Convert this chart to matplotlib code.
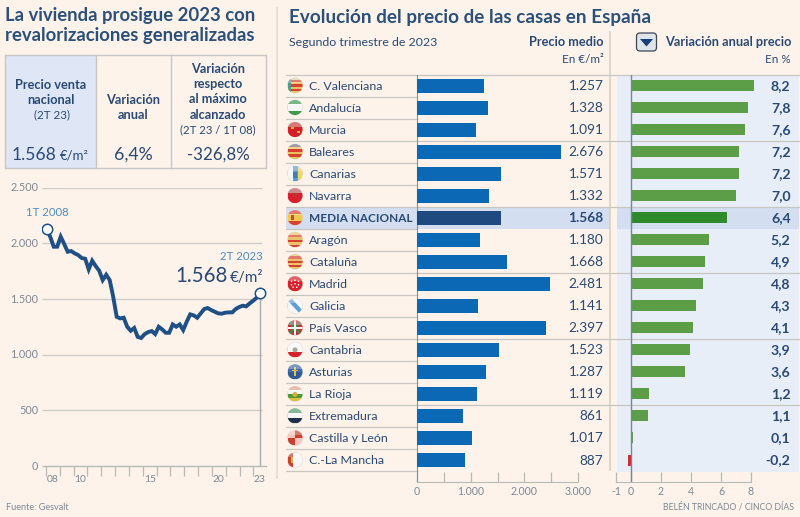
"""
Precio de la vivienda en Espana, 2T 2023: evolucion nacional y ranking por comunidades
"""

import matplotlib
matplotlib.use('Agg')
import matplotlib.pyplot as plt
from matplotlib.patches import Circle, FancyBboxPatch, Polygon, Rectangle

plt.rcParams['font.family'] = ['Lato', 'DejaVu Sans']

# Datos
regiones = ['C. Valenciana', 'Andalucía', 'Murcia', 'Baleares', 'Canarias', 'Navarra',
            'MEDIA NACIONAL', 'Aragón', 'Cataluña', 'Madrid', 'Galicia', 'País Vasco',
            'Cantabria', 'Asturias', 'La Rioja', 'Extremadura', 'Castilla y León', 'C.-La Mancha']
precio_medio = [1257, 1328, 1091, 2676, 1571, 1332, 1568, 1180, 1668,
                2481, 1141, 2397, 1523, 1287, 1119, 861, 1017, 887]
variacion = [8.2, 7.8, 7.6, 7.2, 7.2, 7.0, 6.4, 5.2, 4.9,
             4.8, 4.3, 4.1, 3.9, 3.6, 1.2, 1.1, 0.1, -0.2]

# Serie trimestral desde 1T 2008 hasta 2T 2023
precio_trimestral = [2126, 2060, 1970, 1970, 2060, 1994, 1925, 1931, 1910, 1895, 1868,
                     1862, 1766, 1844, 1796, 1754, 1670, 1718, 1670, 1520, 1340, 1326,
                     1332, 1251, 1215, 1240, 1160, 1150, 1185, 1203, 1212, 1185, 1251,
                     1227, 1197, 1197, 1272, 1251, 1272, 1221, 1296, 1362, 1353, 1332,
                     1371, 1410, 1419, 1401, 1386, 1371, 1368, 1377, 1380, 1380, 1410,
                     1428, 1440, 1434, 1461, 1485, 1512, 1555]
ticks_y = [0, 500, 1000, 1500, 2000, 2500]
etiquetas_anio = ['08', '10', '15', '20', '23']

# Colores de las banderas, en franjas horizontales (h) o verticales (v)
banderas = [
    ('h', ['#dcd2a8', '#d8402f', '#e9c46a', '#d8402f', '#e9c46a', '#d8402f', '#e9c46a']),
    ('h', ['#3f9a4e', '#f7f7f7', '#f7f7f7', '#3f9a4e']),
    ('h', ['#c9403c', '#d32027', '#d32027']),
    ('h', ['#77708f', '#e8c35a', '#d8402f', '#e8c35a', '#d8402f', '#e8c35a']),
    ('v', ['#f7f7f7', '#5b9bd5', '#f0d860']),
    ('h', ['#b85a5a', '#d8202c', '#d8202c']),
    ('h', ['#d8402f', '#f0c850', '#f0c850', '#d8402f']),
    ('h', ['#e9c46a', '#d8402f', '#e9c46a', '#d8402f', '#e9c46a', '#d8402f']),
    ('h', ['#e9c46a', '#d8402f', '#e9c46a', '#d8402f', '#e9c46a', '#d8402f', '#e9c46a']),
    ('h', ['#d8202c', '#d8202c']),
    ('h', ['#f7f7f7']),
    ('h', ['#c8303a', '#c8303a']),
    ('h', ['#f7f7f7', '#f7f7f7', '#d8202c']),
    ('h', ['#3f6ea8', '#2f5a94']),
    ('h', ['#e0a090', '#f7f7f7', '#4f9a2f', '#e0c040']),
    ('h', ['#4f9a6a', '#f7f7f7', '#1f2f4a']),
    ('h', ['#f7f7f7']),
    ('v', ['#c8402f', '#f7f7f7', '#f7f7f7']),
]

# Paleta
fondo = '#fdf3ea'
azul_texto = '#2a4a74'
azul_titulo = '#2b5079'
azul_claro = '#4f8cbc'
gris_eje = '#7d8896'
gris_linea = '#c8c6c2'
panel_azul = '#e8eef8'
fila_media = '#d3dff1'

W, H = 800, 517
fig = plt.figure(figsize=(W / 100, H / 100), dpi=100, facecolor=fondo)

# Capa de fondo en pixeles, para textos, tablas y paneles
capa = fig.add_axes([0, 0, 1, 1], zorder=0)
capa.set_xlim(0, W)
capa.set_ylim(H, 0)
capa.axis('off')


def ejes_px(x0, y0, x1, y1):
    # y0 es el borde superior en pixeles de la imagen
    ax = fig.add_axes([x0 / W, 1 - y1 / H, (x1 - x0) / W, (y1 - y0) / H], zorder=2)
    ax.patch.set_alpha(0)
    return ax


def miles(v):
    return f'{v:,}'.replace(',', '.')


def detalle_bandera(nombre, xc, yc, recorte):
    # escudos y simbolos, solo a grandes rasgos
    piezas = []
    if nombre == 'C. Valenciana':
        piezas.append(Rectangle((xc - 7.5, yc - 7.5), 3, 15, facecolor='#4f9a8a', edgecolor='none'))
    elif nombre == 'Murcia':
        piezas.append(Rectangle((xc - 4, yc - 3), 3, 2, facecolor='#e8b050', edgecolor='none'))
        piezas.append(Rectangle((xc + 2, yc + 1), 3, 2, facecolor='#e8b050', edgecolor='none'))
    elif nombre == 'Canarias':
        piezas.append(Rectangle((xc - 2, yc - 2), 4, 6, facecolor='#3f7fb8', edgecolor='none'))
    elif nombre == 'Navarra':
        piezas.append(Circle((xc, yc - 1), 2, facecolor='#b03a3a', edgecolor='none'))
    elif nombre == 'MEDIA NACIONAL':
        piezas.append(Rectangle((xc - 4, yc - 2.5), 3, 5, facecolor='#b8503a', edgecolor='none'))
    elif nombre == 'Madrid':
        for dx, dy in [(-3.5, -2.5), (0, -3.5), (3.5, -2.5), (-3.5, 1), (0, 0), (3.5, 1), (-1.8, 3.5), (1.8, 3.5)]:
            piezas.append(Circle((xc + dx, yc + dy), 0.8, facecolor='white', edgecolor='none'))
    elif nombre == 'Galicia':
        piezas.append(Polygon([[xc - 7, yc - 5], [xc - 3, yc - 7], [xc + 7, yc + 4], [xc + 4, yc + 7]],
                              facecolor='#5f9fd8', edgecolor='none'))
    elif nombre == 'País Vasco':
        piezas.append(Polygon([[xc - 7, yc - 6], [xc - 5, yc - 7], [xc + 7, yc + 6], [xc + 5, yc + 7]],
                              facecolor='#3f8a50', edgecolor='none'))
        piezas.append(Polygon([[xc + 7, yc - 6], [xc + 5, yc - 7], [xc - 7, yc + 6], [xc - 5, yc + 7]],
                              facecolor='#3f8a50', edgecolor='none'))
        piezas.append(Rectangle((xc - 1, yc - 7.5), 2, 15, facecolor='#f4f4f4', edgecolor='none'))
        piezas.append(Rectangle((xc - 7.5, yc - 1), 15, 2, facecolor='#f4f4f4', edgecolor='none'))
    elif nombre == 'Cantabria':
        piezas.append(Circle((xc, yc), 2.5, facecolor='#a8a890', edgecolor='none'))
    elif nombre == 'Asturias':
        piezas.append(Rectangle((xc - 0.6, yc - 4.5), 1.2, 9, facecolor='#e0c050', edgecolor='none'))
        piezas.append(Rectangle((xc - 3, yc - 2.2), 6, 1.2, facecolor='#e0c050', edgecolor='none'))
    elif nombre == 'La Rioja':
        piezas.append(Circle((xc, yc + 0.5), 2.5, facecolor='#d8b040', edgecolor='none'))
    elif nombre == 'Castilla y León':
        piezas.append(Rectangle((xc - 7.5, yc - 7.5), 7.5, 7.5, facecolor='#f2c8b8', edgecolor='none'))
        piezas.append(Rectangle((xc, yc - 7.5), 7.5, 7.5, facecolor='#c84030', edgecolor='none'))
        piezas.append(Rectangle((xc - 7.5, yc), 7.5, 7.5, facecolor='#c84030', edgecolor='none'))
        piezas.append(Rectangle((xc, yc), 7.5, 7.5, facecolor='#f2c8b8', edgecolor='none'))
    elif nombre == 'C.-La Mancha':
        piezas.append(Rectangle((xc - 4.5, yc - 3), 2.8, 6, facecolor='#e0b050', edgecolor='none'))
    for p in piezas:
        p.set_zorder(4)
        capa.add_patch(p)
        p.set_clip_path(recorte)


# Titulos
capa.text(5, 15.5, 'La vivienda prosigue 2023 con', fontsize=13.3, fontweight='bold', color=azul_titulo, va='center')
capa.text(5, 35, 'revalorizaciones generalizadas', fontsize=13.3, fontweight='bold', color=azul_titulo, va='center')
capa.text(289, 17, 'Evolución del precio de las casas en España', fontsize=13.6, fontweight='bold', color=azul_titulo, va='center')

# Tabla de resumen
capa.add_patch(Rectangle((5, 55), 91, 112.5, facecolor='#dfe7f6', edgecolor='none'))
capa.add_patch(Rectangle((5, 55), 261, 112.5, facecolor='none', edgecolor=gris_linea, lw=1))
capa.plot([96, 96], [55, 167.5], color=gris_linea, lw=1)
capa.plot([170.5, 170.5], [55, 167.5], color=gris_linea, lw=1)

estilo = dict(ha='center', va='center', color=azul_texto)
capa.text(50.5, 85, 'Precio venta', fontsize=9.2, fontweight='bold', **estilo)
capa.text(50.5, 100, 'nacional', fontsize=9.2, fontweight='bold', **estilo)
capa.text(51.5, 115, '(2T 23)', fontsize=8.4, **estilo)
capa.text(133, 100, 'Variación', fontsize=9.2, fontweight='bold', **estilo)
capa.text(133, 115, 'anual', fontsize=9.2, fontweight='bold', **estilo)
capa.text(218, 69, 'Variación', fontsize=9.2, fontweight='bold', **estilo)
capa.text(218, 84, 'respecto', fontsize=9.2, fontweight='bold', **estilo)
capa.text(218, 99, 'al máximo', fontsize=9.2, fontweight='bold', **estilo)
capa.text(218, 115, 'alcanzado', fontsize=9.2, fontweight='bold', **estilo)
capa.text(218, 130, '(2T 23 / 1T 08)', fontsize=8.2, **estilo)
capa.text(12, 155, '1.568', fontsize=12.6, color=azul_texto, va='center')
capa.text(60, 156, '€/m²', fontsize=9.5, color=azul_texto, va='center')
capa.text(133, 155, '6,4%', fontsize=12.8, **estilo)
capa.text(218, 155, '-326,8%', fontsize=12.2, **estilo)

# Separadores verticales
capa.plot([277, 277], [8, 478], color='#e6dcd2', lw=1.2)
capa.plot([610, 610], [32, 470], color='#d9cfc6', lw=1.2)

# Grafico de lineas
ax_linea = ejes_px(42, 187.7, 267, 477)
trimestres = list(range(len(precio_trimestral)))
px_trimestre = 3.5
ax_linea.set_xlim(-(46.7 - 42) / px_trimestre, (267 - 46.7) / px_trimestre)
ax_linea.set_ylim(-(477 - 466) * 2500 / 278.3, 2500)
ax_linea.axis('off')
fin_rejilla = (262 - 46.7) / px_trimestre
ax_linea.hlines(ticks_y[1:], ax_linea.get_xlim()[0], fin_rejilla, color='#cfcdc8', lw=1, zorder=1)
ax_linea.hlines(0, ax_linea.get_xlim()[0], ax_linea.get_xlim()[1], color='#b9b9b6', lw=1, zorder=1)
ax_linea.vlines(trimestres[-1], 0, precio_trimestral[-1], color='#a9adb2', lw=1, zorder=1)
ax_linea.plot(trimestres, precio_trimestral, color='#1f4f85', lw=2.8, solid_joinstyle='miter', zorder=3)
ax_linea.plot([trimestres[0], trimestres[-1]], [precio_trimestral[0], precio_trimestral[-1]], 'o',
              ms=7.5, mfc='white', mec='#1f4f85', mew=1.1, zorder=4)
for k in range(17):
    # marcas anuales bajo el eje
    xt = k * 13.83 / px_trimestre - 0.7 / px_trimestre
    ax_linea.vlines(xt, -(10 * 2500 / 278.3), 0, color='#b9b9b6', lw=0.9)

for v in ticks_y:
    capa.text(38.5, 466 - v * 278.3 / 2500, miles(v), fontsize=7.8, color=gris_eje, ha='right', va='center')
for etiqueta, xp in zip(etiquetas_anio, [52.5, 80, 150, 218, 259.5]):
    capa.text(xp, 479.5, etiqueta, fontsize=7.4, color=gris_eje, ha='center', va='center')

capa.text(26, 212.5, '1T 2008', fontsize=8.2, color=azul_claro, va='center')
capa.text(263, 256.5, '2T 2023', fontsize=8.2, color=azul_claro, ha='right', va='center')
capa.text(175, 276, '1.568', fontsize=14.8, color=azul_texto, va='center')
capa.text(263, 278, '€/m²', fontsize=11, color=azul_texto, ha='right', va='center')
capa.text(6, 507, 'Fuente: Gesvalt', fontsize=6.6, color=gris_eje, va='center')

# Cabeceras de la tabla de comunidades
capa.text(289, 42.5, 'Segundo trimestre de 2023', fontsize=8.9, color=azul_texto, va='center')
capa.text(603.5, 42.5, 'Precio medio', fontsize=9.2, fontweight='bold', color=azul_texto, ha='right', va='center')
capa.text(603.5, 59.5, 'En €/m²', fontsize=8.4, color=azul_texto, ha='right', va='center')
capa.text(791, 42.5, 'Variación anual precio', fontsize=9.2, fontweight='bold', color=azul_texto, ha='right', va='center')
capa.text(791, 59.5, 'En %', fontsize=8.4, color=azul_texto, ha='right', va='center')
capa.add_patch(FancyBboxPatch((636.5, 33), 20, 18, boxstyle='round,pad=0,rounding_size=3.5',
                              facecolor='#dfe3ea', edgecolor='#3c4654', lw=0.9))
capa.add_patch(Polygon([[640, 39], [653, 39], [646.5, 46.5]], facecolor='#173f78', edgecolor='none'))

# Filas
y_arriba = 74.5
alto_fila = 22.03
n = len(regiones)
y_abajo = y_arriba + n * alto_fila
capa.add_patch(Rectangle((617, y_arriba), 182, 397, facecolor=panel_azul, edgecolor='none'))
i_media = regiones.index('MEDIA NACIONAL')
y_media = y_arriba + i_media * alto_fila
capa.add_patch(Rectangle((286, y_media), 324, alto_fila, facecolor=fila_media, edgecolor='none'))
capa.add_patch(Rectangle((617, y_media), 182, alto_fila, facecolor=fila_media, edgecolor='none'))

for i in range(n + 1):
    yl = y_arriba + i * alto_fila
    capa.plot([286, 417], [yl, yl], color=gris_linea, lw=0.9)
    if i % 3 == 0 and i < n:
        capa.plot([417, 799], [yl, yl], color=gris_linea, lw=0.9)

for i, (nombre, precio, var, bandera) in enumerate(zip(regiones, precio_medio, variacion, banderas)):
    yc = y_arriba + (i + 0.5) * alto_fila
    es_media = i == i_media
    capa.text(309, yc + 0.8, nombre, fontsize=8.5 if es_media else 8.9, color=azul_texto, va='center',
              fontweight='bold' if es_media else 'normal')
    capa.text(603.5, yc + 0.5, miles(precio), fontsize=9.8, color=azul_texto, ha='right', va='center',
              fontweight='bold' if es_media else 'normal')
    capa.text(790.5, yc + 0.5, f'{var:.1f}'.replace('.', ','), fontsize=10.2, color=azul_texto,
              ha='right', va='center', fontweight='bold')

    # bandera circular
    borde = Circle((295, yc), 7.5, facecolor='#f7f7f7', edgecolor='#d8d2cc', lw=0.5, zorder=2)
    capa.add_patch(borde)
    modo, franjas = bandera
    for j, c in enumerate(franjas):
        paso = 15 / len(franjas)
        if modo == 'h':
            r = Rectangle((287.5, yc - 7.5 + j * paso), 15, paso, facecolor=c, edgecolor='none', zorder=3)
        else:
            r = Rectangle((287.5 + j * paso, yc - 7.5), paso, 15, facecolor=c, edgecolor='none', zorder=3)
        capa.add_patch(r)
        r.set_clip_path(borde)
    detalle_bandera(nombre, 295, yc, borde)
    brillo = Rectangle((287.5, yc - 7.5), 15, 4.5, facecolor='white', alpha=0.3, edgecolor='none', zorder=5)
    capa.add_patch(brillo)
    brillo.set_clip_path(borde)

# Barras de precio
ax_precio = ejes_px(416.8, y_arriba, 578.3, 481.7)
posiciones = [i + 0.5 for i in range(n)]
colores_precio = ['#1f4a80' if r == 'MEDIA NACIONAL' else '#0a68b4' for r in regiones]
ax_precio.barh(posiciones, precio_medio, height=14 / alto_fila, color=colores_precio, zorder=3)
ax_precio.set_xlim(0, 3000)
ax_precio.set_ylim((481.7 - y_arriba) / alto_fila, 0)
ax_precio.set_yticks([])
ax_precio.set_xticks([0, 1000, 2000, 3000])
ax_precio.set_xticklabels(['0', '1.000', '2.000', '3.000'])
ax_precio.set_xticks([500, 1500, 2500], minor=True)

# Barras de variacion
ax_var = ejes_px(616, y_arriba, 751, 481.7)
colores_var = []
for r, v in zip(regiones, variacion):
    if v < 0:
        colores_var.append('#d02a3a')
    elif r == 'MEDIA NACIONAL':
        colores_var.append('#2f8a2c')
    else:
        colores_var.append('#5b9e47')
barras_var = ax_var.barh(posiciones, variacion, height=11 / alto_fila, color=colores_var, zorder=3)
for barra in barras_var:
    barra.set_clip_on(False)  # 8,2 se sale del eje, que acaba en 8
ax_var.axvline(0, color='#7b8598', lw=1, zorder=4)
ax_var.set_xlim(-1, 8)
ax_var.set_ylim((481.7 - y_arriba) / alto_fila, 0)
ax_var.set_yticks([])
ax_var.set_xticks([-1, 0, 2, 4, 6, 8])
ax_var.set_xticklabels(['-1', '0', '2', '4', '6', '8'])

for ax in (ax_precio, ax_var):
    for lado in ('top', 'right', 'left'):
        ax.spines[lado].set_visible(False)
    ax.spines['bottom'].set_color('#b9b9b6')
    ax.tick_params(axis='x', which='both', direction='in', length=7, width=0.9, color='#b9b9b6',
                   labelsize=7.6, labelcolor=gris_eje, pad=3)
ax_precio.spines['left'].set_visible(True)
ax_precio.spines['left'].set_color('#8b8f96')

capa.text(794, 506.5, 'BELÉN TRINCADO / CINCO DÍAS', fontsize=6.3, color=gris_eje, ha='right', va='center')

fig.savefig('out.png', dpi=100, facecolor=fondo)
